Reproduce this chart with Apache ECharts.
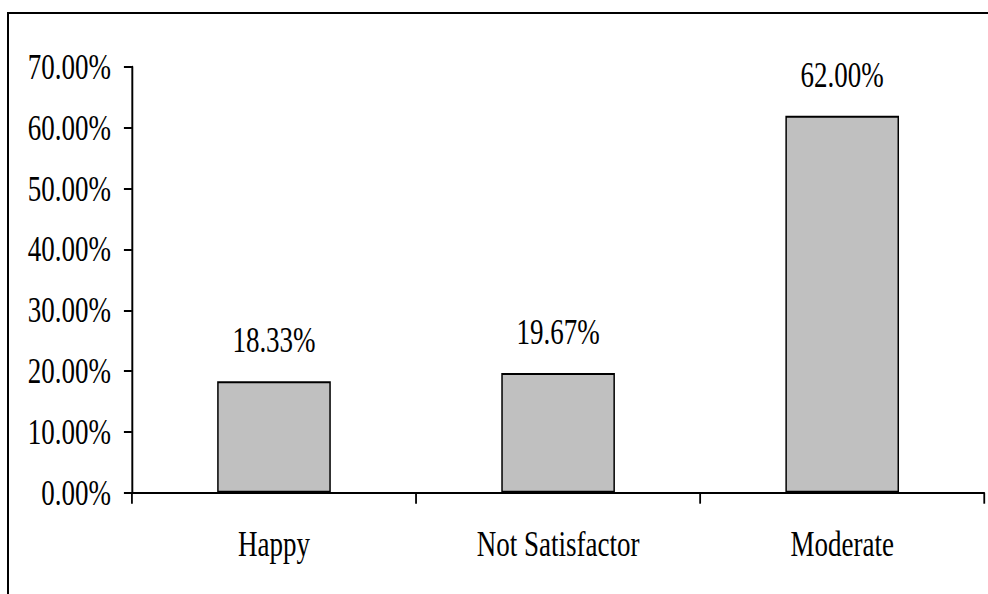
<!DOCTYPE html>
<html>
<head>
<meta charset="utf-8">
<script src="https://cdn.jsdelivr.net/npm/echarts@6/dist/echarts.min.js"></script>
<style>
html,body{margin:0;padding:0;background:#fff;width:988px;height:594px;overflow:hidden;}
#frame{position:absolute;left:7px;top:12px;width:990px;height:600px;border-top:2.5px solid #000;border-left:2px solid #000;box-sizing:border-box;}
#chart{position:absolute;left:0;top:0;width:1318px;height:594px;transform:scaleX(0.74962);transform-origin:0 0;}
</style>
</head>
<body>
<div id="frame"></div>
<div id="chart"></div>
<script>
const categories = ['Happy', 'Not Satisfactor', 'Moderate'];
const values = [18.33, 19.67, 62.00];
const yTicks = [0, 10, 20, 30, 40, 50, 60, 70];

const FONT = '"Liberation Serif", "Times New Roman", serif';
const chart = echarts.init(document.getElementById('chart'), null, {renderer: 'svg'});
chart.setOption({
  animation: false,
  backgroundColor: 'transparent',
  grid: {left: 176, right: 5, top: 67, bottom: 101.3, containLabel: false},
  xAxis: {
    type: 'category',
    data: categories,
    boundaryGap: true,
    axisLine: {show: true, lineStyle: {color: '#000', width: 2}},
    axisTick: {show: true, interval: 0, length: 11, lineStyle: {color: '#000', width: 2.4}},
    axisLabel: {color: '#000', fontFamily: FONT, fontSize: 36, margin: 33, interval: 0}
  },
  yAxis: {
    type: 'value',
    min: yTicks[0],
    max: yTicks[yTicks.length - 1],
    interval: 10,
    splitLine: {show: false},
    axisLine: {show: true, lineStyle: {color: '#000', width: 2.6}},
    axisTick: {show: true, inside: false, length: 10.7, lineStyle: {color: '#000', width: 2}},
    axisLabel: {color: '#000', fontFamily: FONT, fontSize: 36, margin: 28,
      formatter: v => v.toFixed(2) + '%'}
  },
  series: [{
    type: 'bar',
    data: values,
    barWidth: '40%',
    itemStyle: {color: '#c0c0c0', borderColor: '#000', borderWidth: 2},
    label: {show: true, position: 'top', distance: 23, color: '#000', fontFamily: FONT, fontSize: 36,
      formatter: p => p.value.toFixed(2) + '%'}
  }]
});
</script>
</body>
</html>
